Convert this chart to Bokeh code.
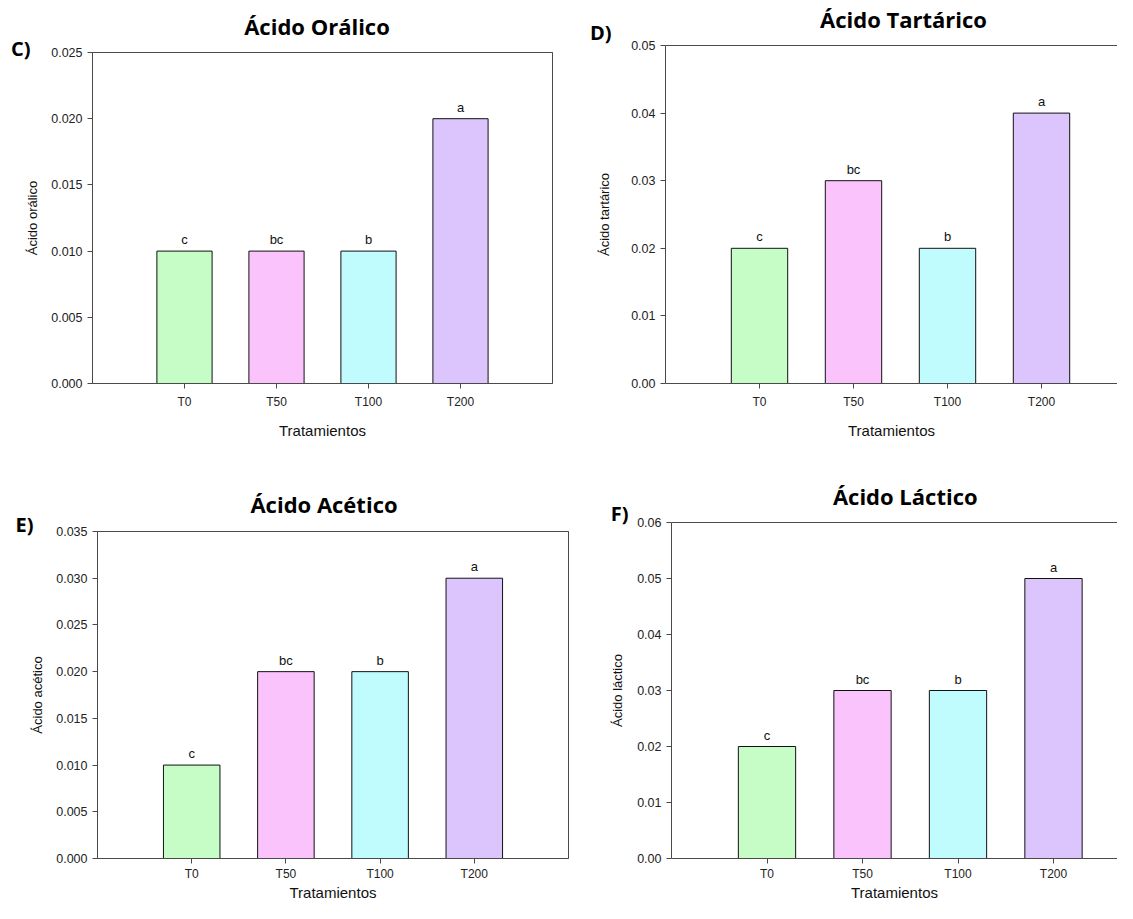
from bokeh.plotting import figure
from bokeh.models import (Range1d, FixedTicker, PrintfTickFormatter, Label,
                          ColumnDataSource, LinearAxis)
from bokeh.layouts import column, row
from bokeh.embed import file_html
from bokeh.resources import INLINE

# ---------------- data ----------------
treatments = ["T0", "T50", "T100", "T200"]
letters = ["c", "bc", "b", "a"]
bar_colors = ["#c6fcc6", "#fbc3fb", "#c0fcfd", "#dcc5fc"]

oralico = [0.010, 0.010, 0.010, 0.020]
tartarico = [0.02, 0.03, 0.02, 0.04]
acetico = [0.010, 0.020, 0.020, 0.030]
lactico = [0.02, 0.03, 0.03, 0.05]

ticks_oralico = [0.000, 0.005, 0.010, 0.015, 0.020, 0.025]
ticks_tartarico = [0.00, 0.01, 0.02, 0.03, 0.04, 0.05]
ticks_acetico = [0.000, 0.005, 0.010, 0.015, 0.020, 0.025, 0.030, 0.035]
ticks_lactico = [0.00, 0.01, 0.02, 0.03, 0.04, 0.05, 0.06]

titles = ["Ácido Orálico", "Ácido Tartárico", "Ácido Acético", "Ácido Láctico"]
tags = ["C)", "D)", "E)", "F)"]
y_labels = ["Ácido orálico", "Ácido tartárico", "Ácido acético", "Ácido láctico"]
x_label = "Tratamientos"

AXIS_COLOR = "#4a4a4a"
SANS = "Liberation Sans"
BOLD = "Open Sans"


def panel(vals, yticks, fmt, title, tag, ylab, fig_w, fig_h, bl, br, bt, bb,
          unit_px, boxed, ylab_standoff, xtick_standoff, xlab_standoff,
          title_dx, title_standoff, tag_standoff, tag_lift):
    n = len(treatments)
    xs = list(range(1, n + 1))
    ymax = yticks[-1]
    frame_w = fig_w - bl - br
    x_end = frame_w / unit_px
    p = figure(width=fig_w, height=fig_h, x_range=Range1d(0, x_end),
               y_range=Range1d(0, ymax), output_backend="svg",
               toolbar_location=None, min_border_left=bl, min_border_right=br,
               min_border_top=bt, min_border_bottom=bb)

    p.xgrid.visible = False
    p.ygrid.visible = False
    p.background_fill_color = "white"
    p.border_fill_color = "white"
    p.outline_line_color = AXIS_COLOR if boxed else None
    p.outline_line_width = 1

    src = ColumnDataSource(dict(x=xs, top=vals, color=bar_colors))
    p.vbar(x="x", top="top", bottom=0, width=0.6, fill_color="color",
           line_color="#111111", line_width=1, source=src)
    for x, v, let in zip(xs, vals, letters):
        p.add_layout(Label(x=x, y=v, y_offset=4, text=let, text_align="center",
                           text_baseline="bottom", text_font=SANS,
                           text_font_size="13px", text_color="#111111"))

    for ax in (p.xaxis, p.yaxis):
        ax.axis_line_color = AXIS_COLOR
        ax.axis_line_width = 1
        ax.major_tick_line_color = AXIS_COLOR
        ax.major_tick_out = 5
        ax.major_tick_in = 0
        ax.minor_tick_line_color = None
        ax.major_label_text_font = SANS
        ax.major_label_text_color = "#222222"
        ax.axis_label_text_font = SANS
        ax.axis_label_text_font_style = "normal"
        ax.axis_label_text_color = "#111111"

    p.xaxis.ticker = FixedTicker(ticks=xs)
    p.xaxis.major_label_overrides = {x: t for x, t in zip(xs, treatments)}
    p.xaxis.major_label_text_font_size = "12px"
    p.xaxis.major_label_standoff = xtick_standoff
    p.xaxis.axis_label = x_label
    p.xaxis.axis_label_text_font_size = "15px"
    p.xaxis.axis_label_standoff = xlab_standoff

    p.yaxis.ticker = FixedTicker(ticks=yticks)
    p.yaxis.formatter = PrintfTickFormatter(format=fmt)
    p.yaxis.major_label_text_font_size = "12.5px"
    p.yaxis.major_label_standoff = 5
    p.yaxis.axis_label = ylab
    p.yaxis.axis_label_text_font_size = "13px"
    p.yaxis.axis_label_standoff = ylab_standoff

    # top frame line, carrying the panel title as its single label
    xt = (n + 1) / 2 + title_dx / unit_px
    top_axis = LinearAxis(ticker=FixedTicker(ticks=[xt]),
                          major_label_overrides={xt: title},
                          axis_line_color=AXIS_COLOR, axis_line_width=1,
                          major_tick_line_color=None,
                          minor_tick_line_color=None, major_tick_out=0,
                          major_tick_in=0, major_label_standoff=title_standoff,
                          major_label_text_font=BOLD,
                          major_label_text_font_style="bold",
                          major_label_text_font_size="22px",
                          major_label_text_color="#000000")
    p.add_layout(top_axis, "above")

    # panel tag, drawn as the single label of an extra bare axis
    tag_axis = LinearAxis(ticker=FixedTicker(ticks=[ymax]),
                          major_label_overrides={ymax: tag + "\n"},
                          axis_line_color=None, major_tick_line_color=None,
                          minor_tick_line_color=None, major_tick_out=0,
                          major_tick_in=0, major_label_standoff=tag_standoff,
                          major_label_text_font=BOLD,
                          major_label_text_font_style="bold",
                          major_label_text_font_size="20px",
                          major_label_text_line_height=tag_lift,
                          major_label_text_color="#000000")
    p.add_layout(tag_axis, "left")
    return p


pC = panel(oralico, ticks_oralico, "%.3f", titles[0], tags[0], y_labels[0],
           572, 443, 92, 20, 52, 60, 92.0, True, 8, 6, 10, -5.5, 12, -8, 0.3)
pD = panel(tartarico, ticks_tartarico, "%.2f", titles[1], tags[1], y_labels[1],
           545, 443, 93, 0, 45, 60, 94.0, False, 16, 6, 10, 3, 12, -17, 1.0)
pE = panel(acetico, ticks_acetico, "%.3f", titles[2], tags[2], y_labels[2],
           578, 460, 97, 10, 88, 43, 94.2, True, 8, 3, 0, -9, 13, -6, 0.5)
pF = panel(lactico, ticks_lactico, "%.2f", titles[3], tags[3], y_labels[3],
           539, 460, 93, 0, 79, 43, 95.5, False, 9, 3, 0, -5, 12, -21, 0.7)

layout = column(row(column(pC), column(pD)), row(column(pE), column(pF)))

open("out.html", "w").write(file_html(layout, INLINE))
